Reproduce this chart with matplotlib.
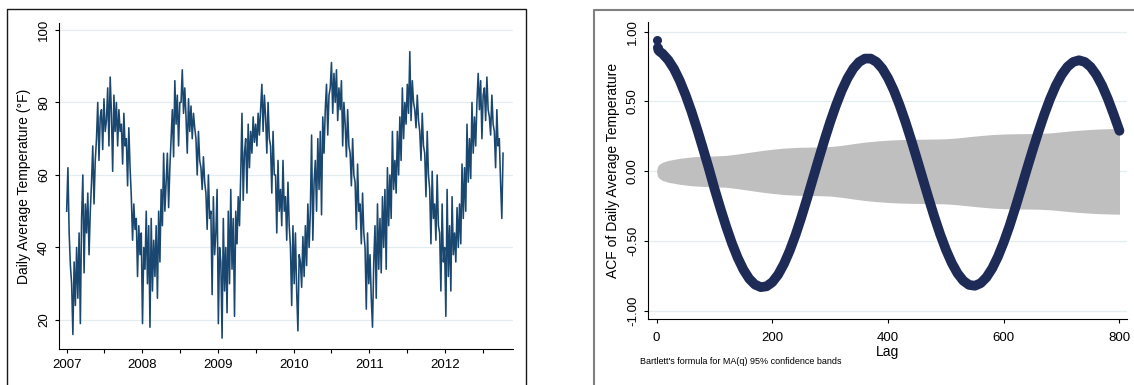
import numpy as np
import pandas as pd
import matplotlib
matplotlib.use("Agg")
import matplotlib.pyplot as plt
from matplotlib.lines import Line2D

plt.rcParams["font.family"] = ["Liberation Sans", "DejaVu Sans"]

# ── daily average temperature (°F), sampled every 6 days from 2007-01-01 ──
temp_f = [
    50, 62, 44, 35,  30, 16, 36, 24,  40, 26, 44, 19,  48, 60, 33, 52,
    44, 55, 38, 50,  58, 68, 52, 64,  70, 80, 64, 76,  78, 67, 81, 72,
    75, 84, 68, 87,  77, 61, 82, 72,  80, 68, 78, 72,  74, 63, 77, 68,
    70, 57, 73, 62,  54, 42, 52, 45,  48, 32, 46, 38,  44, 19, 40, 34,
    50, 30, 46, 18,  48, 28, 42, 32,  46, 26, 50, 36,  56, 46, 66, 50,
    # 2008
    58, 66, 51, 62,  70, 78, 65, 86,  74, 82, 68, 80,  80, 89, 77, 84,
    76, 66, 81, 72,  79, 70, 77, 73,  70, 60, 72, 64,  62, 56, 65, 58,
    55, 45, 60, 48,  50, 27, 54, 38,  44, 56, 19, 40,  36, 15, 48, 28,
    40, 22, 50, 30,  56, 34, 48, 21,  50, 41, 54, 46,  60, 77, 53, 66,
    70, 55, 74, 62,  72, 66, 76, 69,  74, 68, 77, 71,  78, 85, 72, 82,
    76, 66, 80, 70,  68, 55, 72, 60,  60, 44, 64, 50,
    # 2009 - 2010
    56, 46, 64, 50,  54, 42, 58, 46,  40, 24, 46, 30,  44, 28, 17, 38,
    36, 29, 43, 32,  46, 35, 52, 40,  50, 71, 42, 58,  64, 50, 70, 56,
    72, 49, 76, 66,  78, 85, 71, 82,  84, 91, 77, 88,  80, 89, 75, 84,
    78, 86, 68, 80,  74, 65, 78, 68,  66, 57, 70, 60,  58, 45, 63, 50,
    52, 41, 55, 44,  40, 23, 44, 30,  38, 26, 18, 36,  46, 26, 52, 34,
    48, 33, 54, 40,  56, 34, 62, 46,  60, 48, 72, 56,
    # 2011 - 2012
    64, 55, 72, 60,  76, 64, 84, 70,  80, 74, 85, 77,  94, 75, 86, 80,
    78, 73, 82, 75,  72, 64, 77, 68,  66, 54, 72, 60,  56, 41, 61, 48,
    52, 42, 60, 46,  44, 28, 52, 36,  40, 21, 56, 32,  46, 28, 54, 38,
    44, 36, 51, 40,  52, 41, 63, 48,  62, 50, 74, 58,  70, 59, 80, 66,
    76, 68, 80, 88,  78, 86, 70, 82,  84, 75, 87, 78,  76, 71, 82, 74,
    72, 62, 78, 68,  70, 58, 48, 66,
]

years = [2007, 2008, 2009, 2010, 2011, 2012]
year_labels = ["2007", "2008", "2009", "2010", "2011", "2012"]

# ── autocorrelations by lag ──
acf_lags = [1, 2, 3, 5] + list(range(10, 801, 10))
acf_vals = [
    0.943, 0.885, 0.868, 0.858,
    0.843, 0.797, 0.733, 0.648, 0.546, 0.430, 0.301, 0.164, 0.023,
    -0.125, -0.263, -0.394, -0.514, -0.618, -0.704, -0.769, -0.811, -0.829,
    -0.823, -0.793, -0.739, -0.663, -0.568, -0.456, -0.330, -0.195, -0.054,
    0.087, 0.224, 0.354, 0.473, 0.579, 0.667, 0.736, 0.783, 0.807,
    0.807, 0.783, 0.736, 0.667, 0.579, 0.473, 0.354, 0.224, 0.087,
    -0.053, -0.192, -0.326, -0.450, -0.561, -0.655, -0.730, -0.783, -0.813,
    -0.819, -0.801, -0.759, -0.695, -0.610, -0.507, -0.390, -0.260, -0.123,
    0.017, 0.153, 0.284, 0.407, 0.518, 0.614, 0.691, 0.748, 0.783,
    0.795, 0.783, 0.748, 0.691, 0.614, 0.518, 0.407, 0.290,
]

# Bartlett 95% band half-width
band_lags = [0, 1, 3, 6, 10, 20, 40, 60, 80, 100, 120, 140, 160, 180, 200,
             220, 240, 260, 280, 300, 320, 340, 360, 380, 400, 420, 440, 460,
             480, 500, 520, 540, 560, 580, 600, 620, 640, 660, 680, 700, 720,
             740, 760, 780, 800]
band_half = [0.0, 0.030, 0.045, 0.055, 0.065, 0.078, 0.093, 0.103, 0.108,
             0.110, 0.114, 0.124, 0.136, 0.148, 0.158, 0.166, 0.171, 0.173,
             0.174, 0.177, 0.186, 0.198, 0.209, 0.217, 0.223, 0.227, 0.229,
             0.230, 0.231, 0.233, 0.239, 0.248, 0.256, 0.263, 0.267, 0.269,
             0.270, 0.271, 0.275, 0.283, 0.291, 0.297, 0.302, 0.305, 0.307]

acf_ticks = [-1.0, -0.5, 0.0, 0.5, 1.0]
acf_tick_labels = ["-1.00", "-0.50", "0.00", "0.50", "1.00"]
lag_ticks = [0, 200, 400, 600, 800]

NAVY = "#1a476f"
DOTS = "#1e2b56"
GRID = "#e3edf0"
BAND = "#bfbfbf"

W, H = 1134, 385
fig = plt.figure(figsize=(W / 100, H / 100), dpi=100)


def px_axes(x0, y0, x1, y1):
    return fig.add_axes([x0 / W, 1 - y1 / H, (x1 - x0) / W, (y1 - y0) / H])


def stata_axes(ax):
    for side in ("top", "right"):
        ax.spines[side].set_visible(False)
    for side in ("left", "bottom"):
        ax.spines[side].set_linewidth(0.8)
    ax.yaxis.grid(True, color=GRID, linewidth=0.9)
    ax.set_axisbelow(True)
    ax.tick_params(which="both", direction="out", length=3, width=0.8,
                   labelsize=9.5)
    ax.tick_params(axis="y", labelrotation=90, pad=3.5)
    for lab in ax.get_yticklabels():
        lab.set_va("center")


# ── left: time series ──
ax1 = px_axes(59, 23, 513, 349)
dates = pd.date_range("2007-01-01", periods=len(temp_f), freq="6D")
ax1.plot(dates, temp_f, color=NAVY, linewidth=1.15)
ax1.set_xlim(pd.Timestamp("2006-11-25"), pd.Timestamp("2012-11-24"))
ax1.set_ylim(12, 101.9)
ax1.set_yticks([20, 40, 60, 80, 100])
ax1.set_xticks([pd.Timestamp(f"{y}-01-01") for y in years])
ax1.set_xticklabels(year_labels)
ax1.set_xticks([pd.Timestamp(f"{y}-07-01") for y in years], minor=True)
stata_axes(ax1)
ax1.tick_params(axis="x", which="both", pad=4.5)
ax1.set_ylabel("Daily Average Temperature (°F)", fontsize=10, labelpad=5)

# ── right: autocorrelogram ──
ax2 = px_axes(648, 21.7, 1126.7, 319)
ax2.fill_between(band_lags, [-b for b in band_half], band_half,
                 color=BAND, linewidth=0, zorder=1)
# dense dots read as one thick stroke; the first lags stand apart as dots
ax2.plot(acf_lags[1:], acf_vals[1:], "-", color=DOTS, linewidth=7,
         solid_capstyle="round", zorder=3)
ax2.plot(acf_lags[:2], acf_vals[:2], "o", color=DOTS, markersize=6.5,
         markeredgewidth=0, zorder=4)
ax2.set_xlim(-15, 812.5)
ax2.set_ylim(-1.057, 1.071)
ax2.set_yticks(acf_ticks)
ax2.set_yticklabels(acf_tick_labels)
ax2.set_xticks(lag_ticks)
stata_axes(ax2)
ax2.tick_params(axis="x", pad=6.5)
ax2.set_xlabel("Lag", fontsize=10, labelpad=0.5)
ax2.set_ylabel("ACF of Daily Average Temperature", fontsize=10, labelpad=5)
fig.text(640 / W, 1 - 362 / H,
         "Bartlett's formula for MA(q) 95% confidence bands",
         fontsize=6.5, ha="left", va="center")


# panel frames
def frame(x0, y0, x1, color, lw, right=True):
    xs = [x0, x0, x1] + ([x1] if right else [])
    ys = [H + 5, y0, y0] + ([H + 5] if right else [])
    fig.add_artist(Line2D([x / W for x in xs], [1 - y / H for y in ys],
                          transform=fig.transFigure, color=color,
                          linewidth=lw))


frame(7, 9, 526, "#1a1a1a", 1.0)
frame(594.3, 10.3, W + 5, "#808080", 1.5, right=False)

fig.savefig("out.png", dpi=100)
